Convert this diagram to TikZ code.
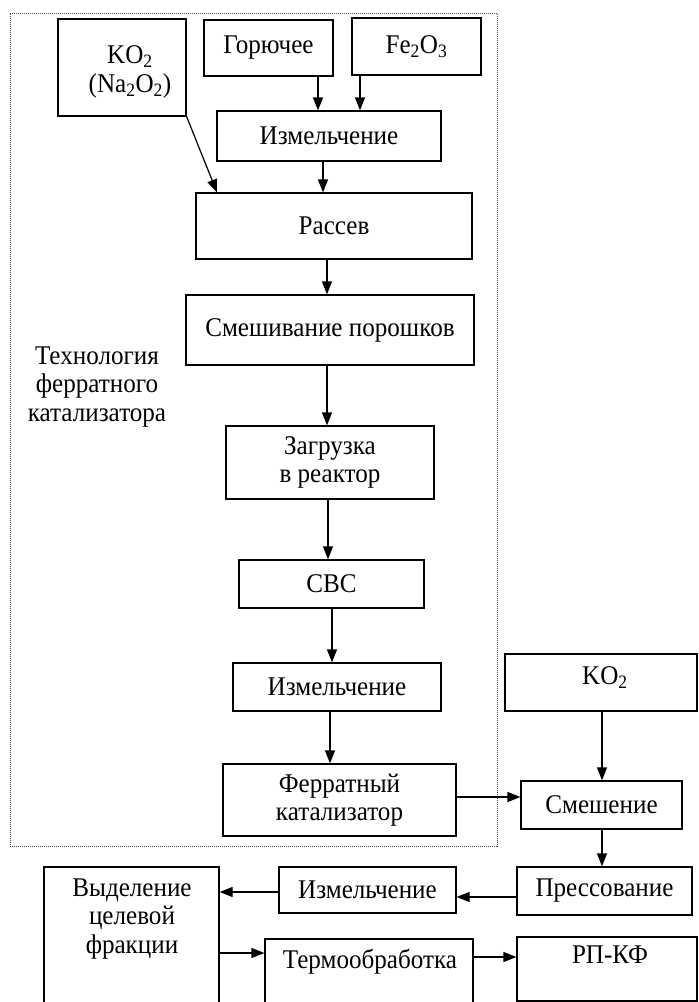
\documentclass[tikz,border=0pt]{standalone}
\usepackage{fontspec}
\setmainfont{Liberation Serif}[FakeStretch=0.93]
\usetikzlibrary{arrows.meta,calc}
\newcommand\figfont{\fontsize{27}{28.5}\selectfont}
\begin{document}
\begin{tikzpicture}[x=1pt,y=-1pt,
  box/.style={draw,line width=1.2pt,inner sep=0pt,align=center,font=\figfont},
  txt/.style={inner sep=0pt,align=center,font=\figfont},
  arr/.style={-{Triangle[length=13pt,width=10pt]},line width=1.2pt},
  frame/.style={draw=black!70,line width=0.9pt,dash pattern=on 1pt off 1pt,inner sep=0pt}]
\useasboundingbox (0,0) rectangle (699,1002);
\fill[white] (0,0) rectangle (699,1002);
% dotted frame
\node[frame,minimum width=487pt,minimum height=833pt] (frm) at (253.5,429.5) {};
\node[txt] (tech) at (97,387) {Технология\\ферратного\\катализатора};
% boxes
\node[box,minimum width=128pt,minimum height=97pt] (ko) at (122,67.5) {};
\node[txt] (kot) at (130,72) {KO\textsubscript{2}\\(Na\textsubscript{2}O\textsubscript{2})};
\node[box,minimum width=129pt,minimum height=56pt] (gor) at (268.5,48) {Горючее};
\node[box,minimum width=129pt,minimum height=57pt] (fe) at (416.5,46.5) {Fe\textsubscript{2}O\textsubscript{3}};
\node[box,minimum width=224pt,minimum height=50pt] (izm1) at (329,136) {Измельчение};
\node[box,minimum width=276pt,minimum height=66pt] (ras) at (334,226) {Рассев};
\node[box,minimum width=288pt,minimum height=70pt] (smp) at (330,330) {Смешивание порошков};
\node[box,minimum width=208pt,minimum height=73pt] (zag) at (330,462.5) {Загрузка\\в реактор};
\node[box,minimum width=185pt,minimum height=48pt] (svs) at (331.5,584) {СВС};
\node[box,minimum width=208pt,minimum height=48pt] (izm2) at (337,687) {Измельчение};
\node[box,minimum width=233pt,minimum height=72pt] (fer) at (339.5,800) {Ферратный\\катализатор};
\node[box,minimum width=192pt,minimum height=57pt] (ko2) at (601,682.5) {};
\node[txt] (ko2t) at (605,678) {KO\textsubscript{2}};
\node[box,minimum width=161pt,minimum height=48pt] (smsh) at (601.5,805) {Смешение};
\node[box,minimum width=175pt,minimum height=48pt] (pres) at (604.5,891) {Прессование};
\node[box,minimum width=177pt,minimum height=46pt] (izm3) at (367.5,890) {Измельчение};
\node[box,minimum width=175pt,minimum height=138pt] (vyd) at (131.5,936) {};
\node[txt] (vydt) at (132,919) {Выделение\\целевой\\фракции};
\node[box,minimum width=208pt,minimum height=66pt] (term) at (369,972) {};
\node[txt] (termt) at (370,962) {Термообработка};
\node[box,minimum width=180pt,minimum height=64pt] (rp) at (607,969) {};
\node[txt] (rpt) at (610,955) {РП-КФ};
% arrow guide coordinates
\coordinate (x318) at (318,0);
\coordinate (x360) at (360,0);
\coordinate (x323) at (323,0);
\coordinate (x327) at (327,0);
\coordinate (x328) at (328,0);
\coordinate (x332) at (332,0);
\coordinate (x330) at (330,0);
\coordinate (x217) at (217,0);
\coordinate (x602) at (602,0);
\coordinate (y797) at (0,797);
\coordinate (y897) at (0,897);
\coordinate (y892) at (0,892);
\coordinate (y953) at (0,953);
\coordinate (y957) at (0,957);
% arrows
\draw[arr] (ko.south east) -- (ras.north -| x217);
\draw[arr] (gor.south -| x318) -- (izm1.north -| x318);
\draw[arr] (fe.south -| x360) -- (izm1.north -| x360);
\draw[arr] (izm1.south -| x323) -- (ras.north -| x323);
\draw[arr] (ras.south -| x327) -- (smp.north -| x327);
\draw[arr] (smp.south -| x327) -- (zag.north -| x327);
\draw[arr] (zag.south -| x328) -- (svs.north -| x328);
\draw[arr] (svs.south -| x332) -- (izm2.north -| x332);
\draw[arr] (izm2.south -| x330) -- (fer.north -| x330);
\draw[arr] (fer.east |- y797) -- (smsh.west |- y797);
\draw[arr] (ko2.south -| x602) -- (smsh.north -| x602);
\draw[arr] (smsh.south -| x602) -- (pres.north -| x602);
\draw[arr] (pres.west |- y897) -- (izm3.east |- y897);
\draw[arr] (izm3.west |- y892) -- (vyd.east |- y892);
\draw[arr] (vyd.east |- y953) -- (term.west |- y953);
\draw[arr] (term.east |- y957) -- (rp.west |- y957);
\end{tikzpicture}
\end{document}
